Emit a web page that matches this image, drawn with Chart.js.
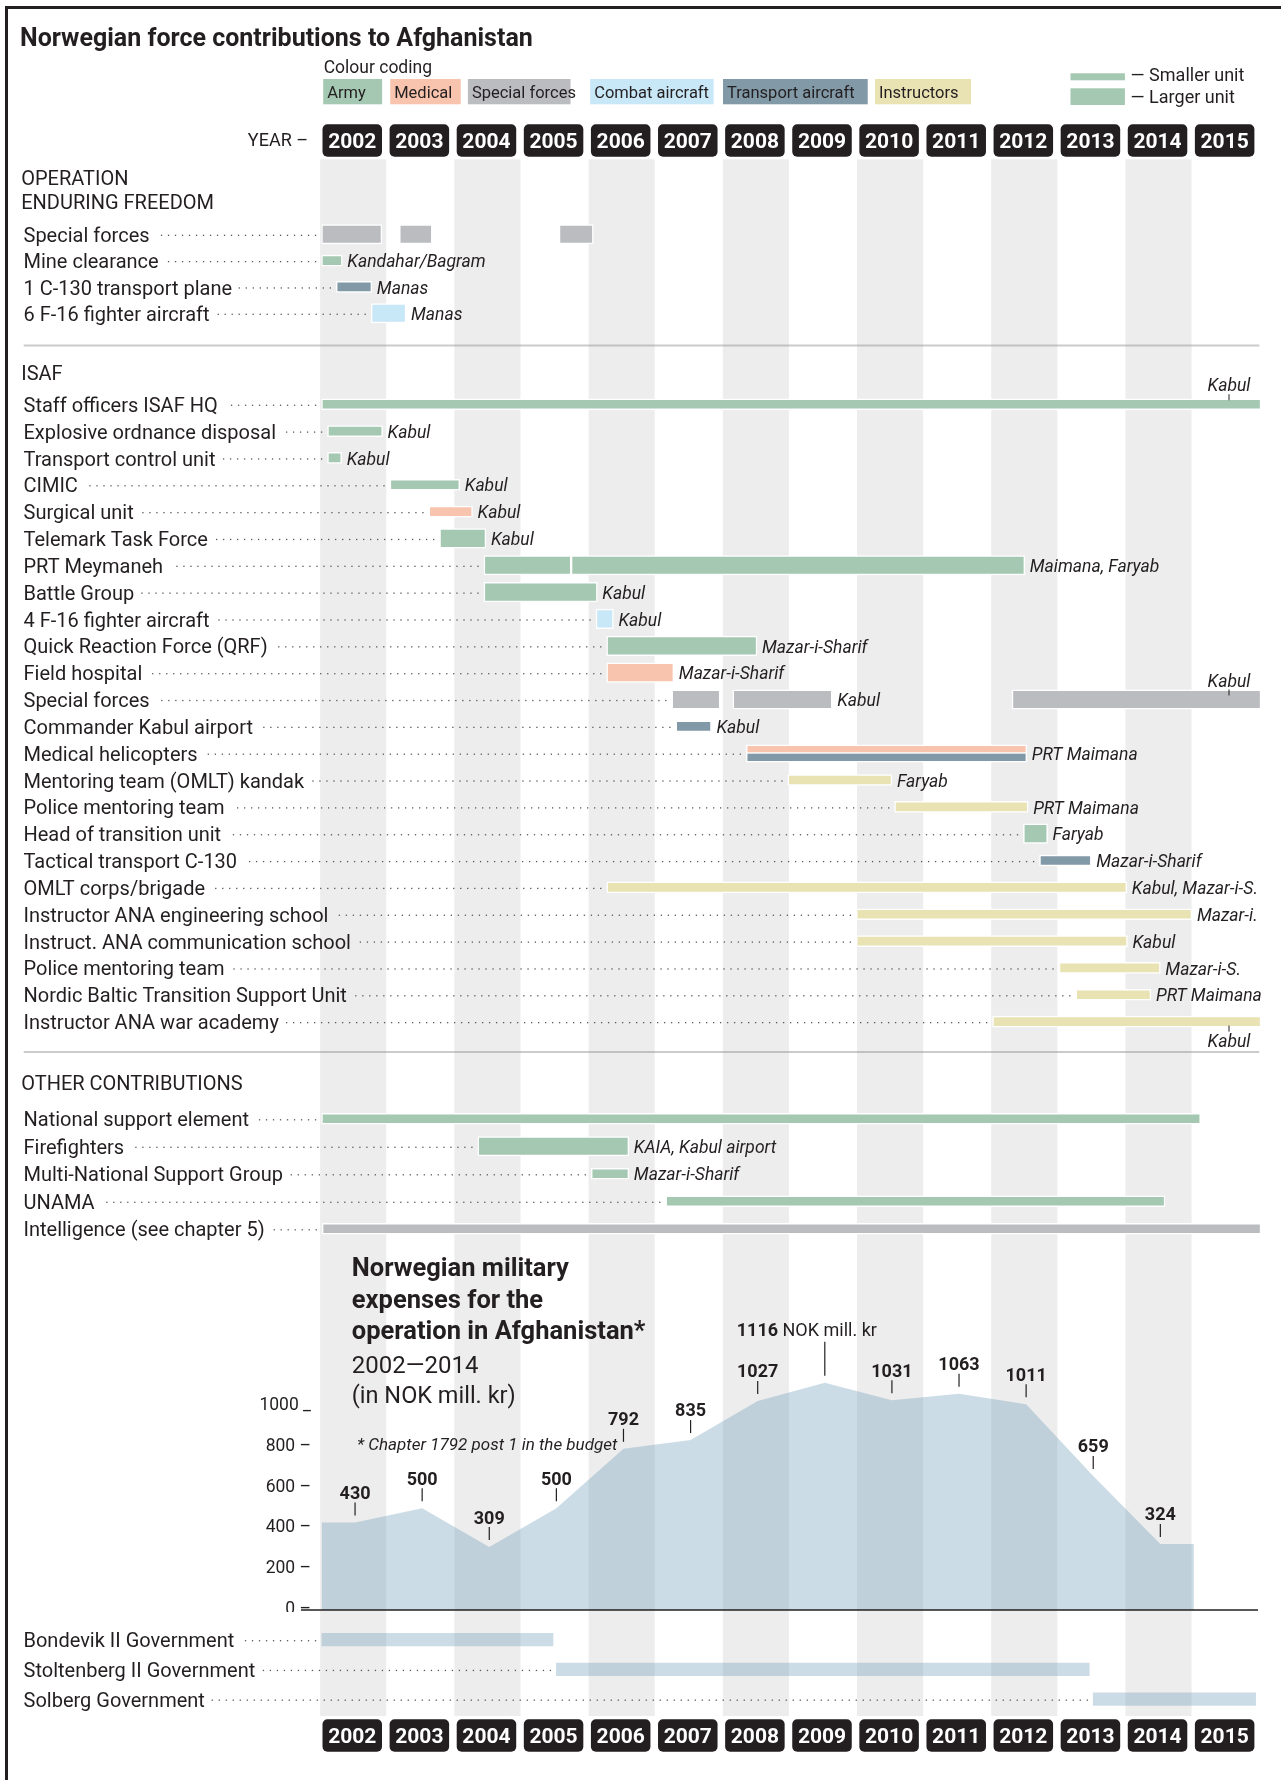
<!DOCTYPE html>
<html lang="en">
<head>
<meta charset="utf-8">
<title>Norwegian force contributions to Afghanistan</title>
<script src="https://cdn.jsdelivr.net/npm/chart.js@4.4.1/dist/chart.umd.min.js"></script>
<style>
  html, body { margin: 0; padding: 0; background: #fff; }
  #page { position: relative; width: 1281px; height: 1780px; overflow: hidden; }
  #page canvas { position: absolute; left: 0; }
  .rule { position: absolute; background: #231f20; }
</style>
</head>
<body>
<div id="page">
  <canvas id="head" width="1281" height="160" style="top:0"></canvas>
  <canvas id="oef" width="1281" height="190" style="top:160px"></canvas>
  <canvas id="isaf" width="1281" height="710" style="top:350px"></canvas>
  <canvas id="other" width="1281" height="190" style="top:1060px"></canvas>
  <canvas id="costs" width="1281" height="362" style="top:1250px"></canvas>
  <canvas id="govs" width="1281" height="168" style="top:1612px"></canvas>
  <div class="rule" style="left:5px;top:6px;width:1276px;height:2.5px"></div>
  <div class="rule" style="left:5px;top:6px;width:2.5px;height:1774px"></div>
</div>
<script>
var INK = "#231f20";
var BAND = "#ededed";
var FONT = "Roboto, 'Open Sans', Arial, sans-serif";
var LABEL_FONT = "20px " + FONT;
var PLACE_FONT = "italic 17.5px " + FONT;

var colours = {
  army: "#a4c8b1",
  medical: "#f8c4ae",
  special: "#bbbcc0",
  combat: "#c8e7f7",
  transport: "#8299a7",
  instructors: "#e9e2b3",
};
var costFill = "rgba(118, 160, 186, 0.37)";

var years = [2002, 2003, 2004, 2005, 2006, 2007, 2008, 2009, 2010, 2011, 2012, 2013, 2014, 2015];
var legendNames = ["Army", "Medical", "Special forces", "Combat aircraft", "Transport aircraft", "Instructors"];
var legendKinds = ["army", "medical", "special", "combat", "transport", "instructors"];

// bars: [row, from, to, kind, size, place, place position]
// size: L larger unit, S smaller unit, T/B the two halves of a split row
var oefRows = ["Special forces", "Mine clearance", "1 C-130 transport plane", "6 F-16 fighter aircraft"];
var oefBars = [
  [0, 2002.0, 2002.9, "special", "L"],
  [0, 2003.16, 2003.65, "special", "L"],
  [0, 2005.54, 2006.05, "special", "L"],
  [1, 2002.0, 2002.31, "army", "S", "Kandahar/Bagram"],
  [2, 2002.22, 2002.75, "transport", "S", "Manas"],
  [3, 2002.74, 2003.26, "combat", "L", "Manas"],
];

var isafRows = [
  "Staff officers ISAF HQ", "Explosive ordnance disposal", "Transport control unit", "CIMIC",
  "Surgical unit", "Telemark Task Force", "PRT Meymaneh", "Battle Group", "4 F-16 fighter aircraft",
  "Quick Reaction Force (QRF)", "Field hospital", "Special forces", "Commander Kabul airport",
  "Medical helicopters", "Mentoring team (OMLT) kandak", "Police mentoring team",
  "Head of transition unit", "Tactical transport C-130", "OMLT corps/brigade",
  "Instructor ANA engineering school", "Instruct. ANA communication school", "Police mentoring team",
  "Nordic Baltic Transition Support Unit", "Instructor ANA war academy",
];
var isafBars = [
  [0, 2002.0, 2016, "army", "S", "Kabul", "above"],
  [1, 2002.09, 2002.91, "army", "S", "Kabul"],
  [2, 2002.09, 2002.3, "army", "S", "Kabul"],
  [3, 2003.02, 2004.06, "army", "S", "Kabul"],
  [4, 2003.6, 2004.25, "medical", "S", "Kabul"],
  [5, 2003.76, 2004.45, "army", "L", "Kabul"],
  [6, 2004.42, 2005.72, "army", "L"],
  [6, 2005.72, 2012.48, "army", "L", "Maimana, Faryab"],
  [7, 2004.42, 2006.11, "army", "L", "Kabul"],
  [8, 2006.09, 2006.35, "combat", "L", "Kabul"],
  [9, 2006.25, 2008.49, "army", "L", "Mazar-i-Sharif"],
  [10, 2006.25, 2007.25, "medical", "L", "Mazar-i-Sharif"],
  [11, 2007.22, 2007.94, "special", "L"],
  [11, 2008.13, 2009.61, "special", "L", "Kabul"],
  [11, 2012.29, 2016, "special", "L", "Kabul", "above"],
  [12, 2007.28, 2007.81, "transport", "S", "Kabul"],
  [13, 2008.33, 2012.51, "medical", "T"],
  [13, 2008.33, 2012.51, "transport", "B", "PRT Maimana"],
  [14, 2008.95, 2010.5, "instructors", "S", "Faryab"],
  [15, 2010.54, 2012.53, "instructors", "S", "PRT Maimana"],
  [16, 2012.46, 2012.82, "army", "L", "Faryab"],
  [17, 2012.7, 2013.47, "transport", "S", "Mazar-i-Sharif"],
  [18, 2006.25, 2014.0, "instructors", "S", "Kabul, Mazar-i-S."],
  [19, 2009.97, 2014.97, "instructors", "S", "Mazar-i."],
  [20, 2009.97, 2014.01, "instructors", "S", "Kabul"],
  [21, 2012.99, 2014.5, "instructors", "S", "Mazar-i-S."],
  [22, 2013.24, 2014.36, "instructors", "S", "PRT Maimana"],
  [23, 2012.0, 2016, "instructors", "S", "Kabul", "below"],
];

var otherRows = ["National support element", "Firefighters", "Multi-National Support Group", "UNAMA", "Intelligence (see chapter 5)"];
var otherBars = [
  [0, 2002.0, 2015.1, "army", "S"],
  [1, 2004.33, 2006.58, "army", "L", "KAIA, Kabul airport"],
  [2, 2006.02, 2006.58, "army", "S", "Mazar-i-Sharif"],
  [3, 2007.13, 2014.57, "army", "S"],
  [4, 2002.01, 2016, "special", "S"],
];

var costYears = [2002, 2003, 2004, 2005, 2006, 2007, 2008, 2009, 2010, 2011, 2012, 2013, 2014];
var costValues = [430, 500, 309, 500, 792, 835, 1027, 1116, 1031, 1063, 1011, 659, 324];
var costTicks = [0, 200, 400, 600, 800, 1000];

var govRows = ["Bondevik II Government", "Stoltenberg II Government", "Solberg Government"];
var govBars = [
  [0, 2002.0, 2005.45],
  [1, 2005.5, 2013.44],
  [2, 2013.5, 2015.92],
];

var PAD_L = 321.5, PAD_R = 20;
var SIZES = {
  L: { thick: 19.5, shift: 0 },
  S: { thick: 11, shift: 0 },
  T: { thick: 8.5, shift: -0.15 },
  B: { thick: 10, shift: 0.15 },
};

function xAxis() {
  return { type: "linear", min: 2002, max: 2016, offset: false, display: false };
}

function rowAxis(n) {
  return { type: "linear", min: -0.5, max: n - 0.5, reverse: true, offset: false, display: false };
}

// y is the vertical middle of the capital letters
function text(ctx, s, x, y, font, align, color) {
  var size = parseFloat(/([\d.]+)px/.exec(font)[1]);
  ctx.font = font;
  ctx.textAlign = align || "left";
  ctx.textBaseline = "alphabetic";
  ctx.fillStyle = color || INK;
  ctx.fillText(s, x, y + size * 0.355);
  return ctx.measureText(s).width;
}

function drawBands(chart, top, bottom) {
  var ctx = chart.ctx, xs = chart.scales.x;
  ctx.save();
  ctx.fillStyle = BAND;
  years.filter(function (y) { return y % 2 === 0; }).forEach(function (y) {
    var x0 = xs.getPixelForValue(y - 0.02), x1 = xs.getPixelForValue(y + 0.965);
    ctx.fillRect(x0, top, x1 - x0, bottom - top);
  });
  ctx.restore();
}

function dots(ctx, from, to, y) {
  ctx.fillStyle = "#58595b";
  for (var x = to; x >= from; x -= 7) ctx.fillRect(x - 0.6, y - 0.6, 1.3, 1.3);
}

function yearBoxes(chart, top) {
  var ctx = chart.ctx, xs = chart.scales.x;
  years.forEach(function (y) {
    var x0 = xs.getPixelForValue(y) + 1;
    ctx.fillStyle = INK;
    ctx.beginPath();
    if (ctx.roundRect) ctx.roundRect(x0, top, 59.5, 32.5, 5);
    else ctx.rect(x0, top, 59.5, 32.5);
    ctx.fill();
    text(ctx, String(y), x0 + 29.75, top + 16.3, "bold 21px " + FONT, "center", "#fff");
  });
}

function rowLabels(chart, rows, bars) {
  var ctx = chart.ctx, xs = chart.scales.x, ys = chart.scales.y;
  rows.forEach(function (label, i) {
    var yc = ys.getPixelForValue(i);
    var w = text(ctx, label, 23.5, yc + 0.5, LABEL_FONT);
    var starts = bars.filter(function (b) { return b[0] === i; }).map(function (b) { return b[1]; });
    dots(ctx, 23.5 + w + 7, xs.getPixelForValue(Math.min.apply(null, starts)) - 6, yc + 1);
  });
}

function placeLabels(chart, bars) {
  var ctx = chart.ctx, xs = chart.scales.x, ys = chart.scales.y;
  bars.forEach(function (b) {
    if (!b[5]) return;
    var yc = ys.getPixelForValue(b[0]), xe = xs.getPixelForValue(b[2]);
    if (b[6]) {
      var dir = b[6] === "above" ? -1 : 1, cx = xe - 32;
      ctx.strokeStyle = INK;
      ctx.lineWidth = 1;
      ctx.beginPath();
      ctx.moveTo(cx, yc + dir * 4);
      ctx.lineTo(cx, yc + dir * 10);
      ctx.stroke();
      text(ctx, b[5], cx, yc + dir * 19, PLACE_FONT, "center");
    } else {
      text(ctx, b[5], xe + 5, yc + 0.5, PLACE_FONT);
    }
  });
}

function ganttChart(id, rows, bars, pad, heads, ruleY) {
  var datasets = Object.keys(SIZES).map(function (size) {
    return {
      data: bars
        .filter(function (b) { return b[4] === size; })
        .map(function (b) { return { x: [b[1], b[2]], y: b[0] + SIZES[size].shift, kind: b[3] }; }),
      barThickness: SIZES[size].thick,
      grouped: false,
      backgroundColor: function (c) { return c.raw ? colours[c.raw.kind] : "#ccc"; },
      borderColor: "#fff",
      borderWidth: 1.5,
      borderSkipped: false,
    };
  });
  return new Chart(document.getElementById(id), {
    type: "bar",
    data: { datasets: datasets },
    options: {
      indexAxis: "y",
      responsive: false,
      animation: false,
      devicePixelRatio: 1,
      events: [],
      layout: { padding: { left: PAD_L, right: PAD_R, top: pad[0], bottom: pad[1] } },
      scales: { x: xAxis(), y: rowAxis(rows.length) },
      plugins: { legend: { display: false }, tooltip: { enabled: false } },
    },
    plugins: [{
      id: "gantt",
      beforeDatasetsDraw: function (chart) { drawBands(chart, 0, chart.height); },
      afterDraw: function (chart) {
        var ctx = chart.ctx;
        heads.forEach(function (h) { text(ctx, h[0], 21.2, h[1], LABEL_FONT); });
        if (ruleY) {
          ctx.strokeStyle = "rgba(140, 140, 140, 0.45)";
          ctx.lineWidth = 2;
          ctx.beginPath();
          ctx.moveTo(23.7, ruleY);
          ctx.lineTo(1259.3, ruleY);
          ctx.stroke();
        }
        rowLabels(chart, rows, bars);
        placeLabels(chart, bars);
      },
    }],
  });
}

// header: title, colour coding, unit legend, year boxes
var legendBoxes = [[323.2, 382.1], [390.2, 460.7], [467.9, 570.5], [590.2, 713.6], [723, 867.7], [875, 971]];
new Chart(document.getElementById("head"), {
  type: "bar",
  data: { datasets: [] },
  options: {
    responsive: false, animation: false, devicePixelRatio: 1, events: [],
    layout: { padding: { left: PAD_L, right: PAD_R, top: 0, bottom: 0 } },
    scales: { x: xAxis(), y: { type: "linear", min: 0, max: 1, offset: false, display: false } },
    plugins: { legend: { display: false }, tooltip: { enabled: false } },
  },
  plugins: [{
    id: "header",
    afterDraw: function (chart) {
      var ctx = chart.ctx;
      text(ctx, "Norwegian force contributions to Afghanistan", 20, 36.7, "bold 25px " + FONT);
      text(ctx, "Colour coding", 323.7, 66.7, "17.5px " + FONT);
      legendNames.forEach(function (name, i) {
        var b = legendBoxes[i];
        ctx.fillStyle = colours[legendKinds[i]];
        ctx.fillRect(b[0], 79, b[1] - b[0], 25.3);
        text(ctx, name, b[0] + 4, 91.7, "16.5px " + FONT);
      });
      ctx.fillStyle = colours.army;
      ctx.fillRect(1070.5, 73.3, 54.4, 7);
      ctx.fillRect(1070.5, 88.3, 54.4, 16.7);
      text(ctx, "— Smaller unit", 1130.6, 75, "18px " + FONT);
      text(ctx, "— Larger unit", 1130.6, 96.7, "18px " + FONT);
      text(ctx, "YEAR –", 308, 140, "18px " + FONT, "right");
      yearBoxes(chart, 124.3);
      drawBands(chart, 159.3, 160);
    },
  }],
});

ganttChart("oef", oefRows, oefBars, [61.1, 23.6],
  [["OPERATION", 18.3], ["ENDURING FREEDOM", 41.7]], 185.5);
ganttChart("isaf", isafRows, isafBars, [40.8, 25], [["ISAF", 23.3]], 702);
ganttChart("other", otherRows, otherBars, [45, 7.5], [["OTHER CONTRIBUTIONS", 23.3]], 0);

// expenses area chart
var lastCost = costValues.length - 1;
var costPoints = [{ x: costYears[0], y: costValues[0] }]
  .concat(costYears.map(function (y, i) { return { x: y + 0.5, y: costValues[i] }; }))
  .concat([{ x: costYears[lastCost] + 1, y: costValues[lastCost] }]);

new Chart(document.getElementById("costs"), {
  type: "line",
  data: {
    datasets: [{
      data: costPoints,
      fill: "origin",
      backgroundColor: costFill,
      borderColor: "rgba(0,0,0,0)",
      borderWidth: 0,
      pointRadius: 0,
      tension: 0,
    }],
  },
  options: {
    responsive: false, animation: false, devicePixelRatio: 1, events: [],
    layout: { padding: { left: PAD_L, right: PAD_R, top: 105.6, bottom: 2 } },
    scales: { x: xAxis(), y: { type: "linear", min: 0, max: 1250, offset: false, display: false } },
    plugins: { legend: { display: false }, tooltip: { enabled: false } },
  },
  plugins: [{
    id: "costs",
    beforeDatasetsDraw: function (chart) { drawBands(chart, 0, chart.height); },
    afterDraw: function (chart) {
      var ctx = chart.ctx, xs = chart.scales.x, ys = chart.scales.y;
      text(ctx, "Norwegian military", 351.8, 16.7, "bold 25.5px " + FONT);
      text(ctx, "expenses for the", 351.8, 49.3, "bold 25.5px " + FONT);
      text(ctx, "operation in Afghanistan*", 351.8, 80, "bold 25.5px " + FONT);
      text(ctx, "2002—2014", 351.8, 114, "24px " + FONT);
      text(ctx, "(in NOK mill. kr)", 351.8, 145, "23.5px " + FONT);
      text(ctx, "* Chapter 1792 post 1 in the budget", 357, 194, "italic 17px " + FONT);

      costTicks.forEach(function (v) {
        text(ctx, v + (v === 1000 ? " _" : " –"), 311, ys.getPixelForValue(v) - 2.5, "17.5px " + FONT, "right");
      });
      var y0 = ys.getPixelForValue(0);
      ctx.strokeStyle = INK;
      ctx.lineWidth = 1.5;
      ctx.beginPath();
      ctx.moveTo(301, y0);
      ctx.lineTo(1258, y0);
      ctx.stroke();

      var peak = costValues.indexOf(Math.max.apply(null, costValues));
      costValues.forEach(function (v, i) {
        var px = xs.getPixelForValue(costYears[i] + 0.5), py = ys.getPixelForValue(v);
        var lift = i === peak ? 21 : 0;
        ctx.strokeStyle = INK;
        ctx.lineWidth = 1.2;
        ctx.beginPath();
        ctx.moveTo(px, py - 7);
        ctx.lineTo(px, py - 20 - lift);
        ctx.stroke();
        if (i === peak) {
          ctx.font = "bold 18px " + FONT;
          var w1 = ctx.measureText(String(v)).width;
          ctx.font = "18px " + FONT;
          var w2 = ctx.measureText(" NOK mill. kr").width;
          var x0 = px - 18 - (w1 + w2) / 2;
          text(ctx, String(v), x0, py - 53, "bold 18px " + FONT);
          text(ctx, " NOK mill. kr", x0 + w1, py - 53, "18px " + FONT);
        } else {
          text(ctx, String(v), px, py - 30, "bold 18px " + FONT, "center");
        }
      });
    },
  }],
});

// governments + bottom year boxes
new Chart(document.getElementById("govs"), {
  type: "bar",
  data: {
    datasets: [{
      data: govBars.map(function (b) { return { x: [b[1], b[2]], y: b[0] }; }),
      barThickness: 12.7,
      grouped: false,
      backgroundColor: costFill,
      borderWidth: 0,
    }],
  },
  options: {
    indexAxis: "y",
    responsive: false, animation: false, devicePixelRatio: 1, events: [],
    layout: { padding: { left: PAD_L, right: PAD_R, top: 12.8, bottom: 66 } },
    scales: { x: xAxis(), y: rowAxis(govRows.length) },
    plugins: { legend: { display: false }, tooltip: { enabled: false } },
  },
  plugins: [{
    id: "govs",
    beforeDatasetsDraw: function (chart) { drawBands(chart, 0, 104); },
    afterDraw: function (chart) {
      rowLabels(chart, govRows, govBars);
      yearBoxes(chart, 107.3);
    },
  }],
});
</script>
</body>
</html>
